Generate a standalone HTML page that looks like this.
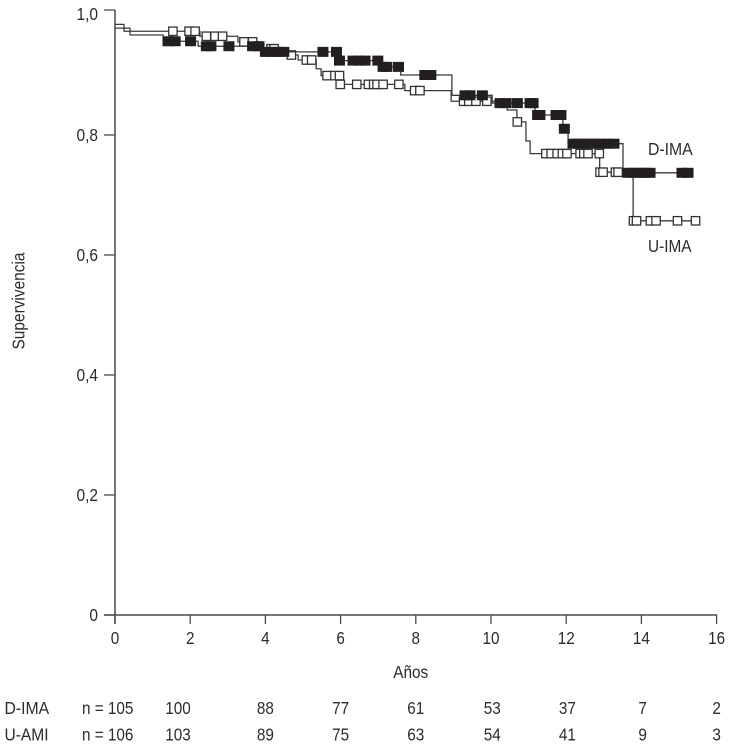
<!DOCTYPE html>
<html lang="es">
<head>
<meta charset="utf-8">
<title>Supervivencia D-IMA vs U-IMA</title>
<style>
html,body{margin:0;padding:0;background:#fff;width:730px;height:747px;overflow:hidden}
svg{display:block}
text{font-family:"Liberation Sans",sans-serif;font-size:18px;fill:#2c2c2c}
</style>
</head>
<body>
<svg id="chart" xmlns="http://www.w3.org/2000/svg" width="730" height="747" viewBox="0 0 730 747"></svg>
<script>
const xTickValues = [0, 2, 4, 6, 8, 10, 12, 14, 16];
const yTickValues = [0, 0.2, 0.4, 0.6, 0.8, 1];
const yTickLabels = ["0", "0,2", "0,4", "0,6", "0,8", "1,0"];

const dimaTimes = [0, 0.24, 0.40, 1.28, 2.21, 3.91, 5.93, 7.02, 7.60, 8.96, 10.03, 11.17, 11.91, 12.05, 13.51];
const dimaSurvival = [0.971, 0.966, 0.96, 0.95, 0.942, 0.933, 0.919, 0.909, 0.896, 0.8635, 0.851, 0.832, 0.81, 0.7855, 0.737];
const dimaEnd = 15.24;
const dimaCensored = [1.41, 1.60, 2.01, 2.43, 2.55, 3.03, 3.66, 3.83, 4.00, 4.18, 4.34, 4.49, 5.53, 5.89, 5.97, 6.33, 6.49, 6.65, 6.99, 7.13, 7.23, 7.54, 8.24, 8.40, 9.31, 9.44, 9.77, 10.24, 10.40, 10.70, 11.04, 11.12, 11.24, 11.30, 11.73, 11.86, 11.95, 12.18, 12.31, 12.45, 12.61, 12.77, 12.93, 13.09, 13.27, 13.64, 13.80, 13.96, 14.10, 14.23, 15.08, 15.24];

const uimaTimes = [0, 0.24, 0.40, 2.26, 3.27, 3.91, 4.52, 4.87, 5.35, 5.48, 5.985, 7.71, 8.94, 10.43, 10.69, 10.93, 11.04, 12.89, 13.78];
const uimaSurvival = [0.977, 0.971, 0.966, 0.958, 0.949, 0.938, 0.928, 0.92, 0.906, 0.895, 0.881, 0.871, 0.854, 0.84, 0.821, 0.79, 0.769, 0.738, 0.657];
const uimaEnd = 15.44;
const uimaCensored = [1.54, 1.97, 2.13, 2.43, 2.66, 2.86, 3.43, 3.66, 4.15, 4.23, 4.69, 5.09, 5.23, 5.64, 5.85, 5.97, 5.99, 6.43, 6.74, 6.88, 6.97, 7.13, 7.55, 7.97, 8.11, 9.27, 9.41, 9.60, 9.89, 10.70, 11.46, 11.60, 11.76, 11.90, 12.02, 12.37, 12.47, 12.58, 12.88, 12.90, 12.98, 13.31, 13.38, 13.79, 13.87, 14.24, 14.39, 14.96, 15.44];

const riskYears = [2, 4, 6, 8, 10, 12, 14, 16];
const riskDima = [100, 88, 77, 61, 53, 37, 7, 2];
const riskUami = [103, 89, 75, 63, 54, 41, 9, 3];

const svg = document.getElementById('chart');
const NS = 'http://www.w3.org/2000/svg';
const AXIS = '#4a4a4a';
const LINE = '#3a3a3a';

function xScale(t) { return 115 + t * 37.6; }
function yScale(v) { return v <= 0.8 ? 615 - 600 * v : 135 - 625 * (v - 0.8); }

function make(tag, attrs) {
  const el = document.createElementNS(NS, tag);
  for (const k in attrs) el.setAttribute(k, attrs[k]);
  svg.appendChild(el);
  return el;
}
function label(str, x, y, anchor, sx) {
  const el = make('text', { 'text-anchor': anchor, transform: 'translate(' + x + ' ' + y + ') scale(' + sx + ' 1)' });
  el.textContent = str;
  return el;
}
function stepPath(times, vals, end) {
  let d = 'M' + xScale(times[0]) + ' ' + yScale(vals[0]);
  for (let i = 1; i < times.length; i++) {
    d += 'H' + xScale(times[i]) + 'V' + yScale(vals[i]);
  }
  return d + 'H' + xScale(end);
}
function valueAt(times, vals, t) {
  let v = vals[0];
  for (let i = 0; i < times.length; i++) if (t >= times[i]) v = vals[i];
  return v;
}

// axes
const yAxis = make('line', { x1: 115, x2: 115, y1: yScale(1), y2: 624, stroke: AXIS, 'stroke-width': 1.5 });


const xAxis = make('line', { x1: 104, x2: xScale(16) + 0.7, y1: 615, y2: 615, stroke: AXIS, 'stroke-width': 1.5 });



yTickValues.forEach(function (v, i) {
  const tick = make('line', { x1: 104, x2: 115, y1: yScale(v), y2: yScale(v), stroke: AXIS, 'stroke-width': 1.3 });
  
  
  const t = label(yTickLabels[i], 98, yScale(v) + (i === 5 ? 10 : 5.8), 'end', 0.86);
  
  
});
xTickValues.forEach(function (v) {
  const tick = make('line', { x1: xScale(v), x2: xScale(v), y1: 615, y2: 624, stroke: AXIS, 'stroke-width': 1.3 });
  
  
  const t = label(String(v), xScale(v), 644, 'middle', 0.85);
  
  
});

// U-IMA series
const uLine = make('path', { d: stepPath(uimaTimes, uimaSurvival, uimaEnd), fill: 'none', stroke: LINE, 'stroke-width': 1.3 });


uimaCensored.forEach(function (t) {
  const cx = xScale(t), cy = yScale(valueAt(uimaTimes, uimaSurvival, t));
  const m = make('rect', { x: cx - 4.2, y: cy - 4.2, width: 8.4, height: 8.4, fill: '#fff', stroke: '#333', 'stroke-width': 1.3 });
  
  
});

// D-IMA series
const dLine = make('path', { d: stepPath(dimaTimes, dimaSurvival, dimaEnd), fill: 'none', stroke: LINE, 'stroke-width': 1.3 });


dimaCensored.forEach(function (t) {
  const cx = xScale(t), cy = yScale(valueAt(dimaTimes, dimaSurvival, t));
  const m = make('rect', { x: cx - 5.2, y: cy - 4.7, width: 10.4, height: 9.4, fill: '#231f20', stroke: '#231f20', 'stroke-width': 0.6 });
  
  
});

// labels
const dLab = label('D-IMA', 648, 155, 'start', 0.877);


const uLab = label('U-IMA', 648, 252, 'start', 0.855);


const xTitle = label('Años', 410.7, 678, 'middle', 0.853);


const yTitle = make('text', { 'text-anchor': 'middle', transform: 'translate(24.5 301) rotate(-90) scale(0.858 1)' });
yTitle.textContent = 'Supervivencia';



// numbers at risk
function riskX(year) { return year === 2 ? 178 : xScale(year) + (year >= 10 && year < 16 ? 1.2 : 0); }
const r1 = label('D-IMA', 4.5, 714, 'start', 0.877);


const r2 = label('U-AMI', 4.5, 740.5, 'start', 0.865);


const n1 = label('n = 105', 82, 714, 'start', 0.85);


const n2 = label('n = 106', 82, 740.5, 'start', 0.85);


riskYears.forEach(function (yr, i) {
  const a = label(String(riskDima[i]), riskX(yr), 714, 'middle', 0.85);
  
  
  const b = label(String(riskUami[i]), riskX(yr), 740.5, 'middle', 0.85);
  
  
});
</script>
</body>
</html>
